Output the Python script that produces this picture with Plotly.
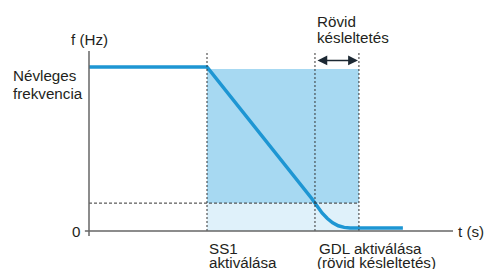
import plotly.graph_objects as go

# ---- data (time in s, frequency in Hz, schematic units) ----
t_curve = [0.0, 4.0, 7.55, 7.72, 7.90, 8.08, 8.26, 8.45, 8.65, 8.85, 10.64]
f_curve = [50.0, 50.0, 9.9, 7.6, 5.5, 3.8, 2.5, 1.6, 1.1, 0.91, 0.91]

t_ss1 = 4.0          # SS1 activation
t_gdl = 7.66         # GDL activation (threshold crossing)
t_delay_end = 9.15   # end of short delay
f_nominal = 50.0
f_fill_top = 49.4
f_threshold = 8.5
f_axis_top = 54.9
t_axis_end = 12.34

y_label = "f (Hz)"
x_label = "t (s)"
nominal_lines = ["Névleges", "frekvencia"]
zero_label = "0"
ss1_lines = ["SS1", "aktiválása"]
gdl_lines = ["GDL aktiválása", "(rövid késleltetés)"]
delay_lines = ["Rövid", "késleltetés"]

# ---- layout geometry ----
W, H = 491, 269
OX, OY = 89, 231
PX_T, PX_F = 29.5, 3.28
xr = [-OX / PX_T, (W - OX) / PX_T]
yr = [(OY - H) / PX_F, OY / PX_F]

BLUE = "#1e96d3"
DARK_FILL = "#a7d9f2"
LIGHT_FILL = "#dff1fa"
DASH = "#333333"
AXIS = "#666666"
TXT = "#231f20"
FONT = "Liberation Sans, Arial, sans-serif"

fig = go.Figure()

shapes = [
    dict(type="rect", x0=t_ss1, x1=t_delay_end, y0=f_threshold, y1=f_fill_top,
         fillcolor=DARK_FILL, line=dict(width=0), layer="below"),
    dict(type="rect", x0=t_ss1, x1=t_delay_end, y0=0, y1=f_threshold,
         fillcolor=LIGHT_FILL, line=dict(width=0), layer="below"),
]
for tx in (t_ss1, t_gdl, t_delay_end):
    shapes.append(dict(type="line", x0=tx, x1=tx, y0=0, y1=f_axis_top,
                       line=dict(color=DASH, width=1, dash="2px,2px")))
shapes.append(dict(type="line", x0=0, x1=t_delay_end, y0=f_threshold, y1=f_threshold,
                   line=dict(color=DASH, width=1, dash="3px,2px")))
# axes
shapes.append(dict(type="line", x0=0, x1=0, y0=-1.5, y1=f_axis_top,
                   line=dict(color=AXIS, width=1.5)))
shapes.append(dict(type="line", x0=-0.14, x1=t_axis_end, y0=0, y1=0,
                   line=dict(color=AXIS, width=1.5)))

fig.add_trace(go.Scatter(x=t_curve, y=f_curve, mode="lines",
                         line=dict(color=BLUE, width=3.5),
                         hoverinfo="skip", showlegend=False))

fs = 15.2
font = dict(family=FONT, size=fs, color=TXT)
ann = [
    dict(x=0, y=58.5, text=y_label, xanchor="center"),
    dict(x=11 / W, xref="paper", y=47.4, text=nominal_lines[0], xanchor="left"),
    dict(x=11 / W, xref="paper", y=41.8, text=nominal_lines[1], xanchor="left"),
    dict(x=0, y=0, text=zero_label, xanchor="right", xshift=-7),
    dict(x=t_axis_end, y=0, text=x_label, xanchor="left", xshift=3),
    dict(x=t_ss1, y=-5.2, text=ss1_lines[0], xanchor="left"),
    dict(x=t_ss1, y=-9.6, text=ss1_lines[1], xanchor="left"),
    dict(x=t_gdl, y=-5.2, text=gdl_lines[0], xanchor="left", xshift=2),
    dict(x=t_gdl, y=-9.6, text=gdl_lines[1], xanchor="left"),
    dict(x=t_gdl, y=64.0, text=delay_lines[0], xanchor="left"),
    dict(x=t_gdl, y=58.9, text=delay_lines[1], xanchor="left"),
]
annotations = []
for a in ann:
    a.update(showarrow=False, font=font, yanchor="middle")
    a.setdefault("xref", "x")
    a.setdefault("yref", "y")
    annotations.append(a)

# double arrow for short delay
annotations.append(dict(x=t_delay_end, y=52.0, ax=t_gdl, ay=52.0,
                        xref="x", yref="y", axref="x", ayref="y",
                        showarrow=True, arrowside="end+start",
                        arrowhead=2, startarrowhead=2,
                        arrowsize=1.4, startarrowsize=1.4,
                        standoff=1, startstandoff=1,
                        arrowwidth=1.4, arrowcolor="#1c2833", text=""))

fig.update_layout(
    width=W, height=H,
    margin=dict(l=0, r=0, t=0, b=0),
    paper_bgcolor="white", plot_bgcolor="white",
    xaxis=dict(range=xr, visible=False, fixedrange=True),
    yaxis=dict(range=yr, visible=False, fixedrange=True),
    shapes=shapes, annotations=annotations,
    showlegend=False,
)

fig.write_html("out.html", config={"displayModeBar": False},
               post_script="document.body.style.margin='0';document.body.style.overflow='hidden';")
